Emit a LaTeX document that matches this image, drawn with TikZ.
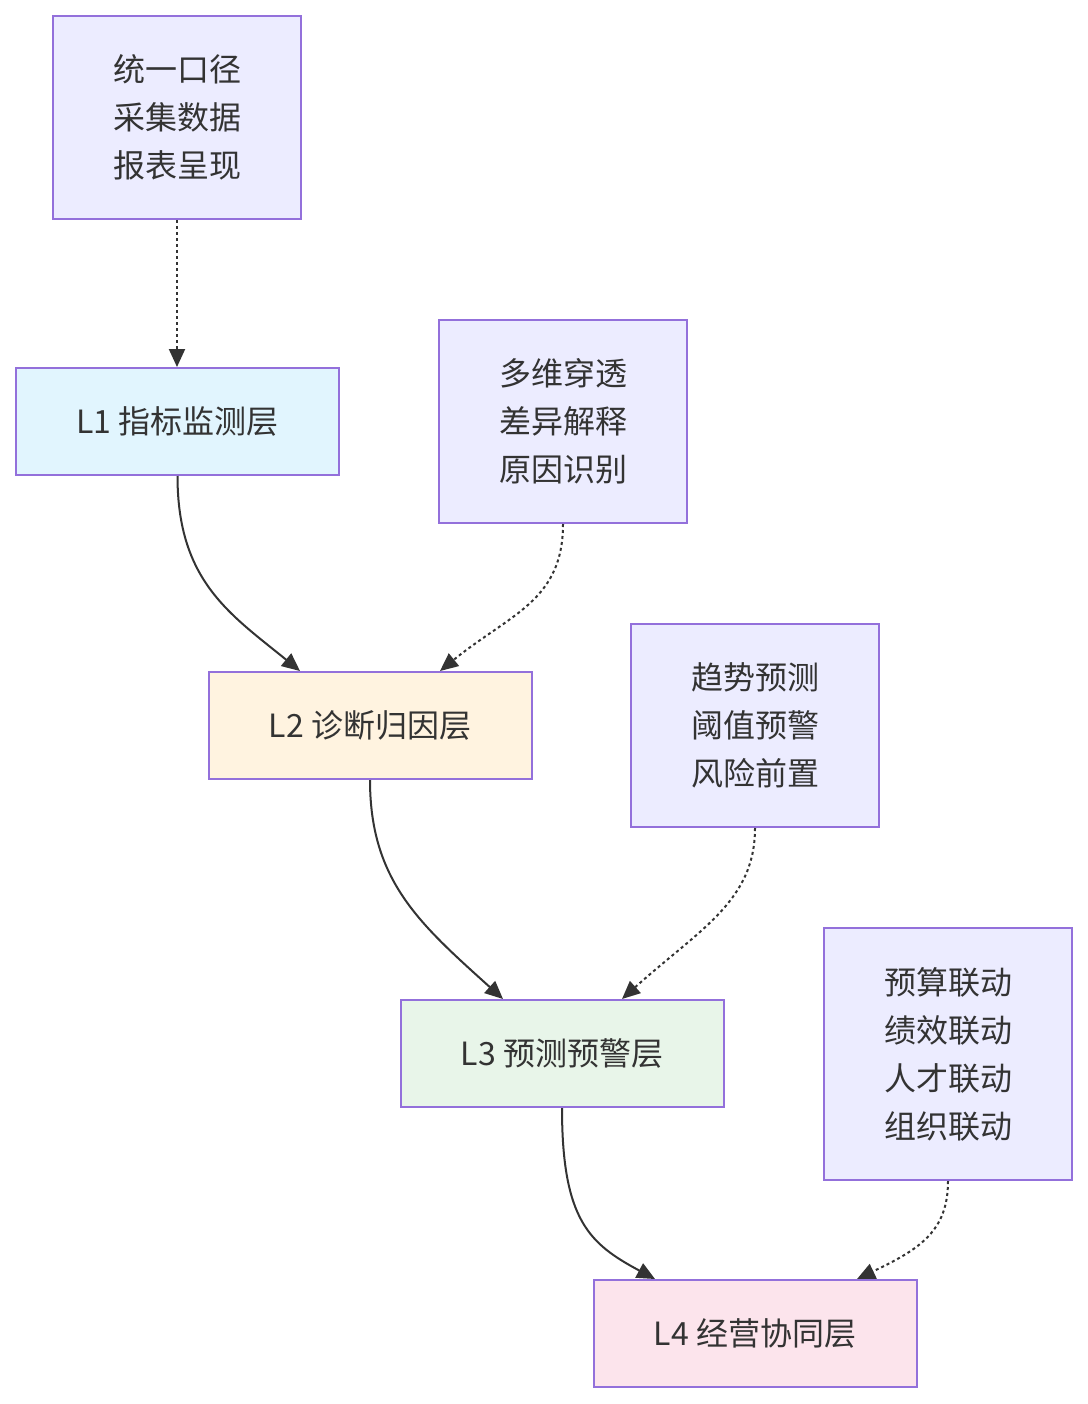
\documentclass[tikz,border=0pt]{standalone}
\usepackage{fontspec}
\setmainfont{Noto Sans CJK SC}
\usetikzlibrary{arrows.meta}
\definecolor{bord}{HTML}{9370DB}
\definecolor{notefill}{HTML}{ECECFF}
\definecolor{ink}{HTML}{333333}
\definecolor{lA}{HTML}{E1F5FE}
\definecolor{lB}{HTML}{FFF3E0}
\definecolor{lC}{HTML}{E8F5E9}
\definecolor{lD}{HTML}{FCE4EC}
\tikzset{
  base/.style={draw=bord, line width=2pt, text=ink, align=center, font=\fontsize{32}{48}\selectfont, inner sep=0pt},
  note/.style={base, fill=notefill, minimum width=248pt, minimum height=203pt},
  layer/.style={base, minimum width=323pt, minimum height=107pt},
  link/.style={draw=ink, line width=2pt, -{Triangle[length=18pt,width=16pt]}},
  hint/.style={link, dash pattern=on 3pt off 3pt},
}
\begin{document}
\begin{tikzpicture}[x=1pt,y=-1pt]
\useasboundingbox (0,0) rectangle (1087,1404);
\node[note] (n1) at (177,117.5) {统一口径\\采集数据\\报表呈现};
\node[layer, fill=lA] (l1) at (177.5,421.5) {L1 指标监测层};
\node[note] (n2) at (563,421.5) {多维穿透\\差异解释\\原因识别};
\node[layer, fill=lB] (l2) at (370,725.5) {L2 诊断归因层};
\node[note] (n3) at (755,725.5) {趋势预测\\阈值预警\\风险前置};
\node[layer, fill=lC] (l3) at (562,1053.5) {L3 预测预警层};
\node[note, minimum height=252pt] (n4) at (948,1054) {预算联动\\绩效联动\\人才联动\\组织联动};
\node[layer, fill=lD] (l4) at (755,1333.5) {L4 经营协同层};

\draw[hint] (n1.south) -- (n1.south |- l1.north);
\draw[link] (l1.south) .. controls +(0,105) and +(-70,-57) .. ([xshift=-70]l2.north);
\draw[hint] (n2.south) .. controls +(0,77) and +(70,-57) .. ([xshift=70]l2.north);
\draw[link] (l2.south) .. controls +(0,101) and +(-83,-75) .. ([xshift=-59]l3.north);
\draw[hint] (n3.south) .. controls +(0,73) and +(78,-70) .. ([xshift=60]l3.north);
\draw[link] (l3.south) .. controls +(0,113) and +(-65,-35) .. ([xshift=-100]l4.north);
\draw[hint] (n4.south) .. controls +(0,50) and +(63,-30) .. ([xshift=102]l4.north);
\end{tikzpicture}
\end{document}
